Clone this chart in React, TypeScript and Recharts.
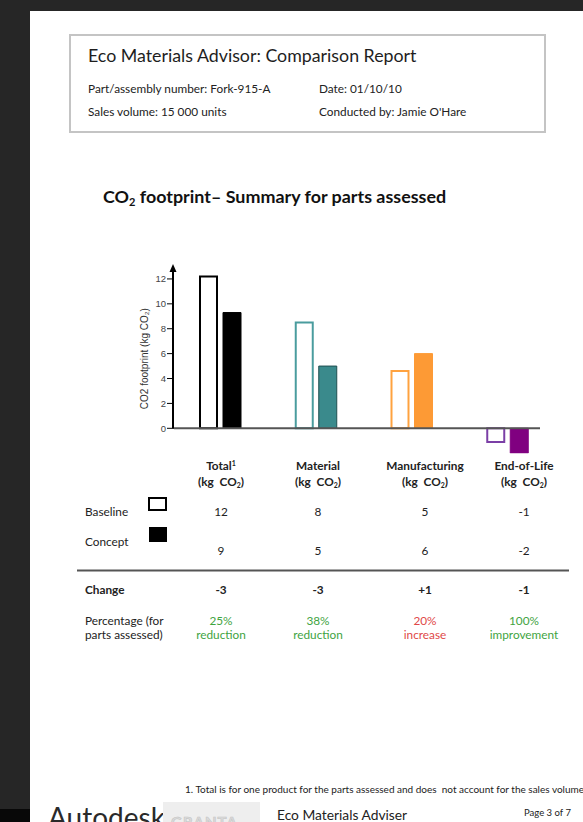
import React from 'react';
import { BarChart, Bar, XAxis, YAxis, Cell, ReferenceLine } from 'recharts';

const categories = ['Total', 'Material', 'Manufacturing', 'End-of-Life'];
const baselineValues = [12.2, 8.5, 4.6, -1.1];
const conceptValues = [9.3, 5.0, 6.0, -2.0];
const yTicks = [0, 2, 4, 6, 8, 10, 12];

const baselineStroke = ['#000000', '#4a9c9e', '#ffa23f', '#7b3fa6'];
const conceptFill = ['#000000', '#3a8a8c', '#fd9a35', '#800080'];
const conceptStroke = ['#000000', '#1f4f50', '#fd9a35', '#800080'];

const tableBaseline = ['12', '8', '5', '-1'];
const tableConcept = ['9', '5', '6', '-2'];
const tableChange = ['-3', '-3', '+1', '-1'];
const tablePct = ['25%', '38%', '20%', '100%'];
const tablePctWord = ['reduction', 'reduction', 'increase', 'improvement'];
const tablePctColor = ['#3fa43f', '#3fa43f', '#e04848', '#3fa43f'];
const tableHeads = ['Total', 'Material', 'Manufacturing', 'End-of-Life'];

const colX = [221, 318, 425, 524];

const data = categories.map((name, i) => ({
  name,
  baseline: baselineValues[i],
  concept: conceptValues[i],
}));

const FONT = "Lato, 'Open Sans', sans-serif";
const AX_FONT = "'Liberation Sans', Arial, sans-serif";
const TS = 11.8;

const AxisArrow = (p: any) => {
  const { x1, y1, x2, y2 } = p;
  const topY = Math.min(y1, y2);
  const botY = Math.max(y1, y2);
  const x = x1;
  return (
    <g>
      <line x1={x} y1={botY} x2={x} y2={topY + 6} stroke="#000" strokeWidth={2} />
      <polygon points={`${x - 3.5},${topY + 8} ${x + 3.5},${topY + 8} ${x},${topY}`} fill="#000" />
    </g>
  );
};

export default function App() {
  return (
    <div style={{ position: 'absolute', left: 0, top: 0, width: 583, height: 822, background: '#262626', overflow: 'hidden' }}>
      <div style={{ position: 'absolute', left: 30, top: 11, width: 553, height: 811, background: '#ffffff' }} />
      <div style={{ position: 'absolute', left: 0, top: 809, width: 30, height: 13, background: '#080808' }} />
      <svg width={583} height={822} style={{ position: 'absolute', left: 0, top: 0 }}>
        {/* header box */}
        <rect x={70} y={35} width={475} height={97} fill="none" stroke="#c4c4c4" strokeWidth={2} />
        <text x={88} y={62} fontFamily={FONT} fontSize={17.8} fill="#1e1e1e">Eco Materials Advisor: Comparison Report</text>
        <text x={88} y={93} fontFamily={FONT} fontSize={11.8} fill="#222">Part/assembly number: Fork-915-A</text>
        <text x={88} y={116} fontFamily={FONT} fontSize={11.8} fill="#222">Sales volume: 15 000 units</text>
        <text x={319} y={93} fontFamily={FONT} fontSize={11.8} fill="#222">Date: 01/10/10</text>
        <text x={319} y={116} fontFamily={FONT} fontSize={11.8} fill="#222">Conducted by: Jamie O'Hare</text>

        {/* chart title */}
        <text x={103} y={203} fontFamily={FONT} fontSize={17.9} fontWeight={700} fill="#111">
          CO<tspan fontSize={11} dy={3}>2</tspan><tspan dy={-3}> footprint– Summary for parts assessed</tspan>
        </text>

        {/* table headers */}
        {tableHeads.map((h, i) => (
          <g key={h}>
            <text x={colX[i]} y={470} textAnchor="middle" fontFamily={FONT} fontSize={TS} fontWeight={700} fill="#222">
              {h}{i === 0 ? <tspan fontSize={7} dy={-4}>1</tspan> : null}
            </text>
            <text x={colX[i]} y={486} textAnchor="middle" fontFamily={FONT} fontSize={TS} fontWeight={700} fill="#222">
              {'(kg\u00a0\u00a0CO'}<tspan fontSize={7} dy={2}>2</tspan><tspan dy={-2}>)</tspan>
            </text>
            <text x={colX[i]} y={516} textAnchor="middle" fontFamily={FONT} fontSize={TS} fill="#222">{tableBaseline[i]}</text>
            <text x={colX[i]} y={555} textAnchor="middle" fontFamily={FONT} fontSize={TS} fill="#222">{tableConcept[i]}</text>
            <text x={colX[i]} y={594} textAnchor="middle" fontFamily={FONT} fontSize={TS} fontWeight={700} fill="#222">{tableChange[i]}</text>
            <text x={colX[i]} y={625} textAnchor="middle" fontFamily={FONT} fontSize={TS} fill={tablePctColor[i]}>{tablePct[i]}</text>
            <text x={colX[i]} y={639} textAnchor="middle" fontFamily={FONT} fontSize={TS} fill={tablePctColor[i]}>{tablePctWord[i]}</text>
          </g>
        ))}
        <text x={85} y={516} fontFamily={FONT} fontSize={TS} fill="#222">Baseline</text>
        <rect x={149} y={498} width={17} height={12} fill="#fff" stroke="#000" strokeWidth={2} />
        <text x={85} y={546} fontFamily={FONT} fontSize={TS} fill="#222">Concept</text>
        <rect x={149} y={527} width={18} height={15} fill="#000" />
        <line x1={77} y1={570.5} x2={569} y2={570.5} stroke="#555" strokeWidth={2} />
        <text x={85} y={594} fontFamily={FONT} fontSize={TS} fontWeight={700} fill="#222">Change</text>
        <text x={85} y={625} fontFamily={FONT} fontSize={TS} fill="#222">Percentage (for</text>
        <text x={85} y={639} fontFamily={FONT} fontSize={TS} fill="#222">parts assessed)</text>

        {/* footer */}
        <text x={185} y={793} fontFamily={FONT} fontSize={10} fill="#222">{'1. Total is for one product for the parts assessed and does\u00a0 not account for the sales volume'}</text>
        <text x={48} y={828} fontFamily={FONT} fontSize={28} fill="#2a2a2a">Autodesk</text>
        <rect x={163} y={802} width={97} height={20} fill="#eeeeee" />
        <text x={171} y={828} fontFamily={FONT} fontSize={15} fontWeight={700} letterSpacing={1} fill="#dcdcdc" stroke="#c4c4c4" strokeWidth={0.6}>GRANTA</text>
        <text x={277} y={820} fontFamily={FONT} fontSize={13.8} fill="#222">Eco Materials Adviser</text>
        <text x={524} y={816} fontFamily={FONT} fontSize={9.5} fill="#222">Page 3 of 7</text>
      </svg>

      <div style={{ position: 'absolute', left: 0, top: 0 }}>
        <BarChart
          width={583}
          height={480}
          data={data}
          margin={{ top: 264, right: 43, bottom: 26.8, left: 134 }}
          barGap={6}
        >
          <XAxis dataKey="name" hide padding={{ left: -1, right: -16 }} />
          <YAxis
            width={40}
            domain={[-2, 13.2]}
            allowDataOverflow
            ticks={yTicks}
            axisLine={false}
            tickLine={{ stroke: '#000', strokeWidth: 1 }}
            tickSize={7}
            tickMargin={1}
            tick={{ fontSize: 9.5, fill: '#444', fontFamily: AX_FONT }}
            label={{
              value: 'CO2 footprint  (kg CO\u2082)',
              angle: -90,
              position: 'insideLeft',
              offset: 10,
              style: { textAnchor: 'middle', fontSize: 10, fill: '#333', fontFamily: AX_FONT },
            }}
          />
          <ReferenceLine y={0} stroke="#555" strokeWidth={2} />
          <ReferenceLine
            segment={[{ x: 'Total', y: 0 }, { x: 'Total', y: 13.2 }]}
            position="start"
            ifOverflow="visible"
            shape={AxisArrow}
          />
          <Bar dataKey="baseline" barSize={17} fill="#fff" strokeWidth={2} isAnimationActive={false}>
            {data.map((d, i) => (
              <Cell key={d.name} fill="#fff" stroke={baselineStroke[i]} />
            ))}
          </Bar>
          <Bar dataKey="concept" barSize={18} isAnimationActive={false}>
            {data.map((d, i) => (
              <Cell key={d.name} fill={conceptFill[i]} stroke={conceptStroke[i]} strokeWidth={1} />
            ))}
          </Bar>
        </BarChart>
      </div>
    </div>
  );
}
